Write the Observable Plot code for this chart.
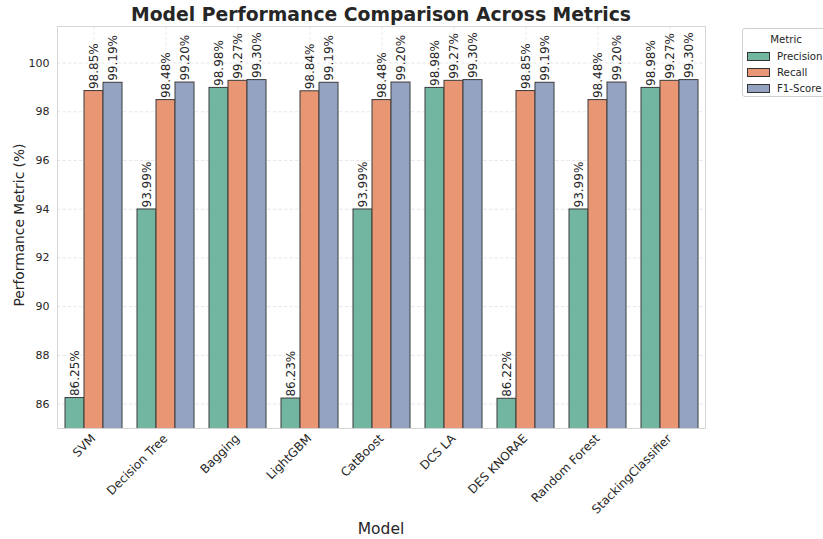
<!DOCTYPE html>
<html><head><meta charset="utf-8">
<script src="https://cdn.jsdelivr.net/npm/d3@7"></script>
<script src="https://cdn.jsdelivr.net/npm/@observablehq/plot@0.6"></script>
<style>
body{margin:0;background:#fff;font-family:"DejaVu Sans",sans-serif;color:#262626;}
#wrap{position:relative;width:823px;height:539px;overflow:hidden;background:#fff;}
#wrap svg{position:absolute;left:0;top:0;}
.title{position:absolute;left:57px;width:648px;top:4px;text-align:center;font-weight:bold;font-size:18.8px;color:#262626;line-height:22px;}
.ylab{position:absolute;left:19px;top:225px;transform:translate(-50%,-50%) rotate(-90deg);white-space:nowrap;font-size:13.8px;}
.xlab{position:absolute;left:57px;width:648px;top:520px;text-align:center;font-size:15.5px;}
.legend{position:absolute;left:742px;top:28px;width:88px;height:69px;border:1px solid #d0d0d0;border-radius:3px;background:#fff;font-size:10.2px;box-sizing:border-box;}
.legend .lt{text-align:center;margin-top:5px;height:14px;}
.legend .row{display:flex;align-items:center;height:16px;padding-left:4px;}
.legend .sw{width:21px;height:7px;border:1px solid #333;margin-right:7px;}
</style></head><body>
<div id="wrap">
<div class="title">Model Performance Comparison Across Metrics</div>
<div class="ylab">Performance Metric (%)</div>
<div class="xlab">Model</div>
</div>
<script>
const models = ["SVM","Decision Tree","Bagging","LightGBM","CatBoost","DCS LA","DES KNORAE","Random Forest","StackingClassifier"];
const metrics = ["Precision","Recall","F1-Score"];
const precision = [86.25, 93.99, 98.98, 86.23, 93.99, 98.98, 86.22, 93.99, 98.98];
const recall    = [98.85, 98.48, 99.27, 98.84, 98.48, 99.27, 98.85, 98.48, 99.27];
const f1score   = [99.19, 99.20, 99.30, 99.19, 99.20, 99.30, 99.19, 99.20, 99.30];
const yTicks = [86, 88, 90, 92, 94, 96, 98, 100];
const colors = ["#72b6a1", "#e99675", "#95a3c3"];

const series = [precision, recall, f1score];
const data = models.flatMap((m, i) => metrics.map((k, j) => ({model: m, metric: k, value: series[j][i]})));

const chart = Plot.plot({
  width: 823, height: 539,
  marginLeft: 57, marginRight: 118, marginTop: 26, marginBottom: 111,
  style: {fontFamily: "DejaVu Sans", fontSize: "11px", color: "#262626", background: "transparent"},
  fx: {domain: models, padding: 0, label: null, tickRotate: -45, tickSize: 0, tickPadding: 8},
  x: {domain: metrics, axis: null, paddingOuter: 0.375, paddingInner: 0},
  y: {domain: [85, 101.5], ticks: yTicks, tickSize: 0, tickPadding: 8, label: null},
  color: {domain: metrics, range: colors},
  marks: [
    Plot.ruleY(yTicks, {stroke: "#e3e3e3", strokeDasharray: "3.5,2", strokeWidth: 0.8}),
    Plot.ruleX(models, {fx: d => d, x: () => "Recall", stroke: "#e3e3e3", strokeDasharray: "3.5,2", strokeWidth: 0.8}),
    Plot.barY(data, {fx: "model", x: "metric", y: "value", fill: "metric", stroke: "#3a3a3a", strokeWidth: 1, clip: true}),
    Plot.text(data, {fx: "model", x: "metric", y: "value", text: d => d.value.toFixed(2) + "%", rotate: -90, textAnchor: "start", lineAnchor: "middle", dy: -2, fontSize: 12, fill: "#262626"}),
    Plot.frame({facet: "super", stroke: "#d6d6d6"})
  ]
});
chart.querySelectorAll("g[aria-label='fx-axis tick label'] text, g[aria-label='fx-axis'] text").forEach(t => t.setAttribute("font-size", "12"));
const wrap = document.getElementById("wrap");
wrap.insertBefore(chart, wrap.firstChild);

const leg = document.createElement("div");
leg.className = "legend";
leg.innerHTML = `<div class="lt">Metric</div>` + metrics.map((m, j) =>
  `<div class="row"><div class="sw" style="background:${colors[j]}"></div><span>${m}</span></div>`).join("");
wrap.appendChild(leg);
</script>
</body></html>
